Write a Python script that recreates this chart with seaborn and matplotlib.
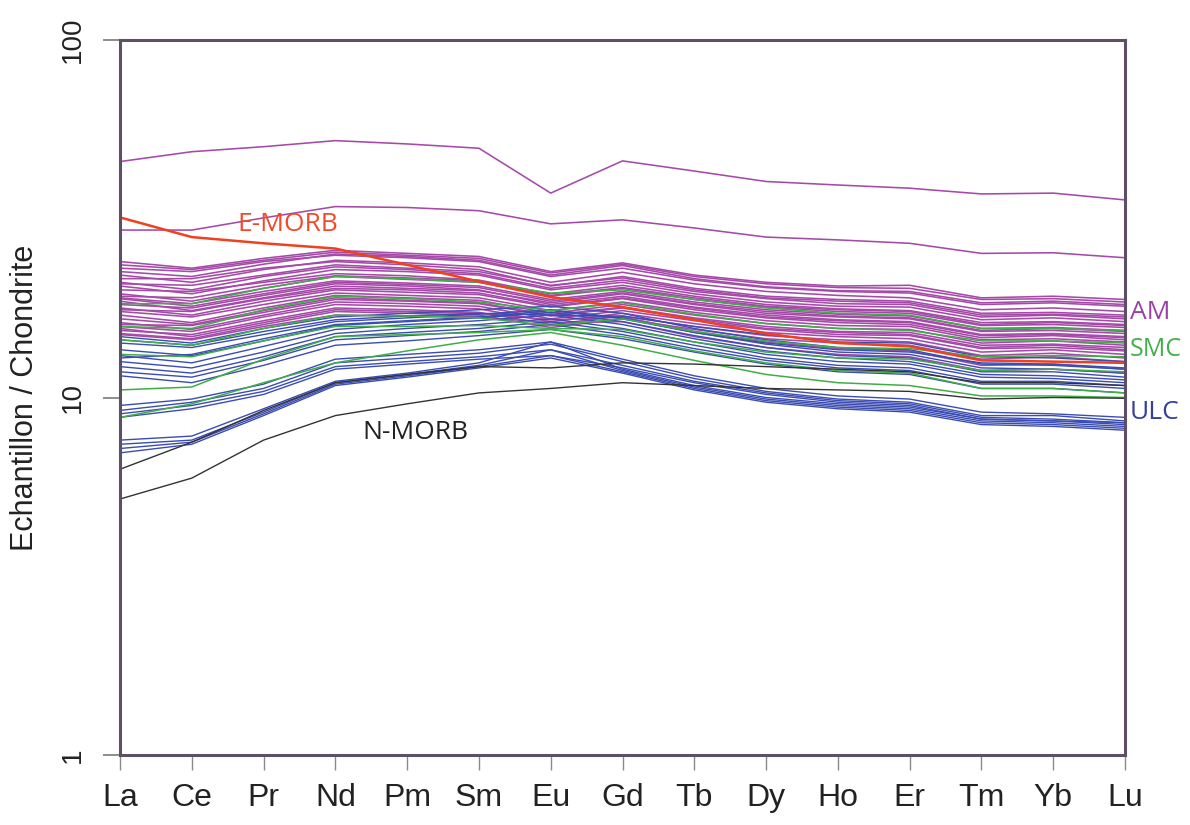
import matplotlib
matplotlib.use("Agg")
import matplotlib.pyplot as plt
import numpy as np
import pandas as pd
import seaborn as sns
from matplotlib import font_manager, ticker
from matplotlib.transforms import blended_transform_factory

elements = ["La", "Ce", "Pr", "Nd", "Pm", "Sm", "Eu", "Gd", "Tb", "Dy", "Ho", "Er", "Tm", "Yb", "Lu"]

am = [
    [45.7, 48.7, 50.3, 52.3, 51.2, 49.8, 37.3, 45.9, 43.0, 40.2, 39.3, 38.5, 37.1, 37.3, 35.7],
    [29.4, 29.4, 31.8, 34.2, 34.0, 33.3, 30.6, 31.4, 29.8, 28.1, 27.6, 27.0, 25.3, 25.4, 24.6],
    [24.0, 23.0, 24.5, 25.8, 25.3, 24.8, 22.5, 23.8, 22.0, 21.0, 20.5, 20.6, 19.0, 19.2, 18.8],
    [23.5, 22.8, 24.2, 25.5, 25.0, 24.5, 22.3, 23.6, 21.8, 20.8, 20.3, 20.2, 18.8, 18.9, 18.5],
    [23.0, 22.5, 24.0, 25.0, 24.6, 24.0, 21.8, 23.0, 21.3, 20.3, 19.8, 19.6, 18.2, 18.4, 18.0],
    [22.5, 21.8, 23.6, 25.2, 24.8, 24.2, 22.0, 23.4, 21.5, 20.4, 19.9, 19.8, 18.4, 18.6, 18.2],
    [22.0, 21.0, 22.8, 24.2, 23.8, 23.2, 21.0, 22.4, 20.8, 19.8, 19.3, 19.0, 17.6, 17.8, 17.4],
    [21.5, 21.5, 23.0, 24.0, 23.5, 22.8, 20.5, 21.8, 20.2, 19.2, 18.8, 18.6, 17.2, 17.3, 17.0],
    [21.0, 20.0, 21.8, 23.2, 22.8, 22.2, 20.2, 21.3, 19.8, 18.9, 18.3, 18.2, 16.8, 17.0, 16.6],
    [20.8, 20.6, 22.0, 23.5, 23.0, 22.5, 20.6, 21.6, 20.0, 19.0, 18.6, 18.4, 17.0, 17.1, 16.8],
    [20.5, 19.5, 21.2, 22.8, 22.5, 22.0, 20.0, 21.0, 19.5, 18.5, 18.0, 17.9, 16.5, 16.7, 16.3],
    [20.0, 19.8, 21.0, 22.2, 21.9, 21.3, 19.5, 20.6, 19.2, 18.2, 17.7, 17.5, 16.2, 16.3, 16.0],
    [19.5, 18.6, 20.2, 21.8, 21.4, 21.0, 19.2, 20.2, 18.8, 17.9, 17.4, 17.2, 15.9, 16.0, 15.7],
    [19.2, 19.0, 20.6, 21.9, 21.6, 21.2, 19.3, 20.3, 19.0, 18.0, 17.6, 17.4, 16.0, 16.2, 15.9],
    [19.0, 18.3, 19.8, 21.2, 20.9, 20.5, 18.8, 19.8, 18.5, 17.6, 17.1, 16.9, 15.6, 15.7, 15.4],
    [18.9, 18.0, 19.5, 21.0, 20.7, 20.3, 18.6, 19.6, 18.3, 17.4, 16.9, 16.7, 15.4, 15.6, 15.3],
    [18.6, 17.5, 19.0, 20.5, 20.2, 19.9, 18.4, 19.5, 18.2, 17.2, 16.8, 16.6, 15.3, 15.4, 15.1],
    [18.2, 17.8, 19.3, 20.8, 20.5, 20.0, 18.2, 19.2, 17.9, 17.0, 16.5, 16.3, 15.0, 15.1, 14.8],
    [17.8, 17.0, 18.6, 20.0, 19.7, 19.4, 17.9, 18.9, 17.6, 16.7, 16.2, 16.0, 14.7, 14.9, 14.5],
    [17.6, 17.4, 18.9, 20.2, 20.0, 19.6, 18.0, 19.0, 17.8, 16.8, 16.4, 16.2, 14.9, 15.0, 14.7],
    [17.4, 16.8, 18.2, 19.6, 19.3, 19.0, 17.5, 18.5, 17.3, 16.4, 15.9, 15.8, 14.5, 14.6, 14.3],
    [17.0, 16.2, 17.8, 19.3, 19.0, 18.7, 17.2, 18.2, 17.0, 16.1, 15.6, 15.5, 14.2, 14.4, 14.0],
    [16.6, 16.0, 17.5, 19.0, 18.7, 18.4, 17.0, 17.9, 16.7, 15.8, 15.3, 15.2, 14.0, 14.1, 13.8],
    [16.2, 15.5, 17.0, 18.5, 18.3, 18.0, 16.6, 17.5, 16.4, 15.5, 15.0, 14.9, 13.7, 13.8, 13.5],
    [16.0, 15.9, 17.3, 18.8, 18.6, 18.3, 16.9, 17.8, 16.6, 15.6, 15.2, 15.0, 13.8, 14.0, 13.6],
    [15.8, 15.3, 16.8, 18.2, 18.0, 17.7, 16.3, 17.2, 16.1, 15.2, 14.8, 14.6, 13.4, 13.6, 13.2],
    [15.6, 14.8, 16.2, 17.6, 17.4, 17.2, 16.5, 16.8, 15.3, 14.3, 13.7, 13.5, 12.3, 12.4, 12.0],
    [15.4, 15.0, 16.4, 17.8, 17.6, 17.3, 16.0, 16.9, 15.8, 14.9, 14.5, 14.3, 13.1, 13.3, 12.9],
    [15.1, 14.6, 16.0, 17.4, 17.2, 17.0, 15.7, 16.6, 15.5, 14.6, 14.2, 14.0, 12.8, 13.0, 12.6],
    [15.0, 14.5, 15.8, 17.0, 16.9, 16.8, 16.2, 16.3, 14.8, 13.8, 13.2, 13.0, 11.9, 12.0, 11.7],
]

ulc = [
    [14.8, 14.2, 15.6, 16.8, 17.2, 17.6, 18.0, 17.2, 15.6, 14.5, 13.8, 13.6, 12.4, 12.3, 12.0],
    [14.5, 14.0, 15.3, 16.5, 16.9, 17.2, 17.0, 16.9, 15.8, 15.0, 14.3, 14.2, 13.0, 12.9, 12.6],
    [14.2, 13.8, 15.0, 16.3, 16.7, 17.1, 17.6, 16.7, 15.2, 14.1, 13.4, 13.2, 12.1, 12.0, 11.7],
    [13.6, 13.1, 14.4, 15.9, 16.3, 16.7, 17.3, 16.3, 14.9, 13.8, 13.1, 12.9, 11.8, 11.8, 11.4],
    [13.1, 12.5, 13.9, 15.5, 16.0, 16.4, 17.0, 16.0, 14.6, 13.5, 12.9, 12.6, 11.6, 11.5, 11.2],
    [12.9, 13.2, 14.6, 16.0, 16.4, 16.8, 17.5, 16.6, 15.2, 14.2, 13.6, 13.4, 12.5, 12.4, 12.1],
    [12.6, 12.1, 13.4, 15.1, 15.6, 16.0, 16.6, 15.6, 14.3, 13.2, 12.6, 12.4, 11.4, 11.3, 11.0],
    [12.2, 11.7, 13.0, 14.8, 15.2, 15.6, 16.3, 15.3, 14.0, 12.9, 12.3, 12.1, 11.1, 11.1, 10.8],
    [11.8, 11.4, 12.7, 14.5, 14.9, 15.3, 16.0, 15.0, 13.7, 12.7, 12.1, 11.9, 10.9, 10.9, 10.6],
    [11.5, 11.0, 12.3, 14.0, 14.4, 14.9, 15.5, 14.6, 13.4, 12.4, 11.8, 11.6, 10.6, 10.6, 10.3],
    [9.5, 9.9, 10.9, 12.8, 13.2, 13.6, 14.3, 12.8, 11.5, 10.6, 10.1, 9.9, 9.1, 9.0, 8.8],
    [9.2, 9.7, 10.6, 12.5, 12.9, 13.3, 14.1, 12.6, 11.3, 10.4, 9.9, 9.7, 8.9, 8.9, 8.6],
    [9.0, 9.5, 10.4, 12.2, 12.6, 13.0, 13.6, 12.3, 11.1, 10.3, 9.8, 9.6, 8.8, 8.7, 8.5],
    [8.8, 9.3, 10.2, 12.0, 12.4, 12.8, 13.1, 12.1, 11.0, 10.2, 9.7, 9.5, 8.7, 8.6, 8.4],
    [7.6, 7.8, 9.3, 11.1, 11.7, 12.5, 14.3, 12.0, 10.8, 10.0, 9.6, 9.4, 8.7, 8.6, 8.5],
    [7.4, 7.6, 9.1, 11.0, 11.6, 12.3, 13.6, 11.9, 10.7, 9.9, 9.5, 9.3, 8.6, 8.5, 8.3],
    [7.2, 7.5, 9.0, 10.9, 11.5, 12.2, 13.1, 11.8, 10.6, 9.8, 9.4, 9.2, 8.5, 8.4, 8.2],
    [7.0, 7.4, 8.9, 10.8, 11.4, 12.1, 12.9, 11.7, 10.5, 9.7, 9.3, 9.1, 8.4, 8.3, 8.1],
]

smc = [
    [18.3, 18.3, 20.2, 21.8, 21.5, 21.0, 19.6, 20.0, 18.8, 17.8, 17.2, 17.0, 15.6, 15.6, 15.4],
    [15.8, 15.6, 17.6, 19.2, 18.9, 18.5, 17.5, 18.4, 17.1, 16.1, 15.6, 15.4, 14.4, 14.4, 14.2],
    [14.5, 14.0, 15.6, 17.0, 16.9, 16.7, 15.9, 16.6, 15.3, 14.4, 13.8, 13.7, 13.0, 13.1, 13.0],
    [13.2, 13.0, 14.4, 15.8, 15.8, 15.9, 15.6, 15.5, 14.3, 13.4, 12.9, 12.8, 11.9, 12.0, 11.8],
    [10.5, 10.7, 12.8, 14.8, 15.0, 15.2, 15.5, 14.8, 13.5, 12.5, 11.9, 11.7, 10.6, 10.6, 10.3],
    [8.8, 9.6, 11.0, 12.5, 13.5, 14.5, 15.2, 14.0, 12.7, 11.6, 11.0, 10.8, 10.1, 10.1, 10.0],
]

nmorb = [
    [6.3, 7.5, 9.2, 11.0, 11.6, 12.2, 12.1, 12.5, 12.4, 12.2, 12.0, 11.8, 11.0, 11.0, 10.8],
    [5.2, 5.95, 7.6, 8.9, 9.6, 10.3, 10.6, 11.0, 10.8, 10.6, 10.5, 10.4, 9.9, 10.0, 9.95],
]

emorb = [
    [31.9, 28.1, 27.0, 26.1, 23.5, 21.1, 19.1, 17.9, 16.5, 15.1, 14.2, 13.9, 12.7, 12.6, 12.5],
]

groups = [("AM", am), ("ULC", ulc), ("SMC", smc), ("N-MORB", nmorb), ("E-MORB", emorb)]

rows = []
for gname, series in groups:
    for i, vals in enumerate(series):
        for el, v in zip(elements, vals):
            rows.append({"group": gname, "sample": f"{gname}_{i}", "element": el, "value": v})
df = pd.DataFrame(rows)


def pick(*names):
    avail = {f.name for f in font_manager.fontManager.ttflist}
    for n in names:
        if n in avail:
            return n
    return "DejaVu Sans"


sns.set_style("white")
base_font = pick("Liberation Sans", "Arial", "DejaVu Sans")
label_font = pick("Open Sans", "Noto Sans", "Liberation Sans")
plt.rcParams["font.family"] = [base_font, "DejaVu Sans"]

fig = plt.figure(figsize=(11.9, 8.25), dpi=100)
ax = fig.add_axes([120 / 1190, 1 - 755 / 825, 1005 / 1190, 715 / 825])

styles = {
    "AM": ("#a64aa9", 1.15),
    "ULC": ("#3b4cb2", 1.0),
    "SMC": ("#3fae47", 1.1),
    "N-MORB": ("#333333", 1.0),
    "E-MORB": ("#f0401e", 1.8),
}

for gname, _ in groups:
    sub = df[df["group"] == gname]
    color, lw = styles[gname]
    sns.lineplot(data=sub, x="element", y="value", units="sample", estimator=None,
                 color=color, linewidth=lw, sort=False, legend=False, ax=ax)

ax.set_yscale("log")
ax.set_ylim(1, 100)
ax.set_xlim(0, len(elements) - 1)
ax.set_xticks(range(len(elements)))
ax.set_xticklabels(elements)
ax.yaxis.set_major_locator(ticker.FixedLocator([1, 10, 100]))
ax.yaxis.set_minor_locator(ticker.NullLocator())
ax.set_yticklabels(["1", "10", "100"], rotation=90, va="center")

spine_color = "#5c4f66"
for s in ax.spines.values():
    s.set_visible(True)
    s.set_color(spine_color)
    s.set_linewidth(2.2)

ax.tick_params(axis="x", direction="out", length=11, width=1, color="#8a8a8a",
               labelsize=23, pad=9, labelcolor="#222222", bottom=True)
ax.tick_params(axis="y", direction="out", length=12.5, width=1.2, color="#7a7a7a",
               labelsize=20, pad=12, labelcolor="#222222", left=True)

ax.set_xlabel("")
ax.set_ylabel("Echantillon / Chondrite", fontsize=22, color="#222222")
ax.yaxis.set_label_coords(-0.0796, 0.5)

ax.text(2.34, 30.4, "E-MORB", color="#ef4a2c", fontsize=19, family=label_font,
        ha="center", va="center")
ax.text(4.11, 7.96, "N-MORB", color="#222222", fontsize=19, family=label_font,
        ha="center", va="center")

tr = blended_transform_factory(ax.transAxes, ax.transData)
ax.text(1.005, 17.3, "AM", color="#9a42a6", fontsize=19, family=label_font,
        ha="left", va="center", transform=tr)
ax.text(1.005, 13.6, "SMC", color="#41b04a", fontsize=18, family=label_font,
        ha="left", va="center", transform=tr)
ax.text(1.005, 9.05, "ULC", color="#363f9c", fontsize=19, family=label_font,
        ha="left", va="center", transform=tr)

fig.savefig("out.png", dpi=100)
